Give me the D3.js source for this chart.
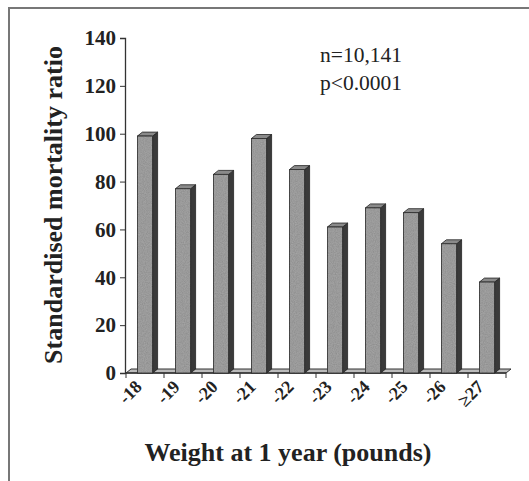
<!DOCTYPE html>
<html>
<head>
<meta charset="utf-8">
<script src="https://cdn.jsdelivr.net/npm/d3@7"></script>
<style>
  body { margin: 0; background: #fff; }
  svg { display: block; }
  text { font-family: "Liberation Serif", "Times New Roman", serif; fill: #222; }
</style>
</head>
<body>
<div id="chart"></div>
<script>
// weight categories (pounds) and their SMR values
var categories = ["-18", "-19", "-20", "-21", "-22", "-23", "-24", "-25", "-26", "\u226527"];
var smr = [99, 77, 83, 98, 85, 61, 69, 67, 54, 38];
var yTicks = [0, 20, 40, 60, 80, 100, 120, 140];

var width = 529, height = 481;
var depthX = 5, depthY = 4; // 3d offset of the bars

var svg = d3.select("#chart").append("svg")
    .attr("width", width)
    .attr("height", height);

// grainy texture for the bar faces
var defs = svg.append("defs");
var grain = defs.append("filter").attr("id", "grain");
grain.append("feTurbulence")
    .attr("type", "fractalNoise")
    .attr("baseFrequency", 0.9)
    .attr("numOctaves", 2)
    .attr("result", "noise");
grain.append("feColorMatrix")
    .attr("in", "noise")
    .attr("type", "matrix")
    .attr("values", "0 0 0 0 0  0 0 0 0 0  0 0 0 0 0  0 0 0 0.35 0")
    .attr("result", "dots");
grain.append("feComposite")
    .attr("in", "dots").attr("in2", "SourceGraphic").attr("operator", "in").attr("result", "clip");
grain.append("feMerge").selectAll("feMergeNode")
    .data(["SourceGraphic", "clip"])
    .enter().append("feMergeNode").attr("in", function(d) { return d; });

// frame (only top and left edge visible)
svg.append("path")
    .attr("d", "M9,481 L9,8 L529,8")
    .style("fill", "none")
    .style("stroke", "#777")
    .style("stroke-width", 2);

var x = d3.scaleBand()
    .domain(categories)
    .range([126, 506])
    .paddingInner(0.6)
    .paddingOuter(0.3);

var y = d3.scaleLinear()
    .domain([0, 140])
    .range([373, 38]);

// floor
svg.append("path")
    .attr("d", "M126," + y(0) + " L506," + y(0) + " L" + (506 + depthX) + "," + (y(0) - depthY) +
        " L" + (126 + depthX) + "," + (y(0) - depthY) + "Z")
    .style("fill", "#bbb")
    .style("stroke", "#333")
    .style("stroke-width", 1);

// y axis
var yAxis = svg.append("g")
    .attr("transform", "translate(125,0)")
    .call(d3.axisLeft(y).tickValues(yTicks).tickSize(5).tickPadding(4));
yAxis.select(".domain").style("stroke", "#333").style("stroke-width", 1.3);
yAxis.selectAll(".tick line").style("stroke", "#333");
yAxis.selectAll("text")
    .style("font-family", "'Liberation Serif', serif")
    .style("font-size", "21px")
    .style("font-weight", "bold")
    .style("fill", "#222");

// x axis line and ticks at band edges
var step = x.step();
var xAxis = svg.append("g");
xAxis.append("line")
    .attr("x1", 126).attr("x2", 506)
    .attr("y1", y(0)).attr("y2", y(0))
    .style("stroke", "#333").style("stroke-width", 1.3);
var tickPos = categories.map(function(c) { return x(c) - x.paddingOuter() * step; });
tickPos.push(506);
xAxis.selectAll("line.tick")
    .data(tickPos)
    .enter().append("line")
    .attr("class", "tick")
    .attr("x1", function(d) { return d; })
    .attr("x2", function(d) { return d; })
    .attr("y1", y(0))
    .attr("y2", y(0) + 5)
    .style("stroke", "#333");

// rotated category labels
xAxis.selectAll("text")
    .data(categories)
    .enter().append("text")
    .attr("transform", function(d) {
        return "translate(" + (x(d) + x.bandwidth() / 2 - 11) + "," + (y(0) + 6) + ") rotate(-45)";
    })
    .attr("text-anchor", "end")
    .attr("dy", "0.7em")
    .style("font-size", "18px")
    .style("font-weight", "bold")
    .text(function(d) { return d; });

// bars
var bars = svg.append("g").selectAll("g")
    .data(smr)
    .enter().append("g");

// side face
bars.append("path")
    .attr("d", function(d, i) {
        var x1 = x(categories[i]) + x.bandwidth();
        return "M" + x1 + "," + y(0) + " L" + (x1 + depthX) + "," + (y(0) - depthY) +
            " L" + (x1 + depthX) + "," + (y(d) - depthY) + " L" + x1 + "," + y(d) + "Z";
    })
    .style("fill", "#3a3a3a")
    .style("stroke", "#222")
    .style("stroke-width", 0.8);

// top face
bars.append("path")
    .attr("d", function(d, i) {
        var x0 = x(categories[i]), x1 = x0 + x.bandwidth();
        return "M" + x0 + "," + y(d) + " L" + x1 + "," + y(d) +
            " L" + (x1 + depthX) + "," + (y(d) - depthY) + " L" + (x0 + depthX) + "," + (y(d) - depthY) + "Z";
    })
    .style("fill", "#8a8a8a")
    .style("stroke", "#222")
    .style("stroke-width", 0.8);

// front face
bars.append("rect")
    .attr("x", function(d, i) { return x(categories[i]); })
    .attr("y", function(d) { return y(d); })
    .attr("width", x.bandwidth())
    .attr("height", function(d) { return y(0) - y(d); })
    .attr("filter", "url(#grain)")
    .style("fill", "#a8a8a8")
    .style("stroke", "#333")
    .style("stroke-width", 0.8);

// axis titles
svg.append("text")
    .attr("transform", "translate(62,205) rotate(-90)")
    .attr("text-anchor", "middle")
    .style("font-size", "26px")
    .style("font-weight", "bold")
    .text("Standardised mortality ratio");

svg.append("text")
    .attr("x", 288)
    .attr("y", 461)
    .attr("text-anchor", "middle")
    .style("font-size", "26px")
    .style("font-weight", "bold")
    .text("Weight at 1 year (pounds)");

// annotation
svg.append("text")
    .attr("x", 320).attr("y", 62)
    .style("font-size", "21.5px")
    .text("n=10,141");
svg.append("text")
    .attr("x", 320).attr("y", 90)
    .style("font-size", "21.5px")
    .text("p<0.0001");
</script>
</body>
</html>
